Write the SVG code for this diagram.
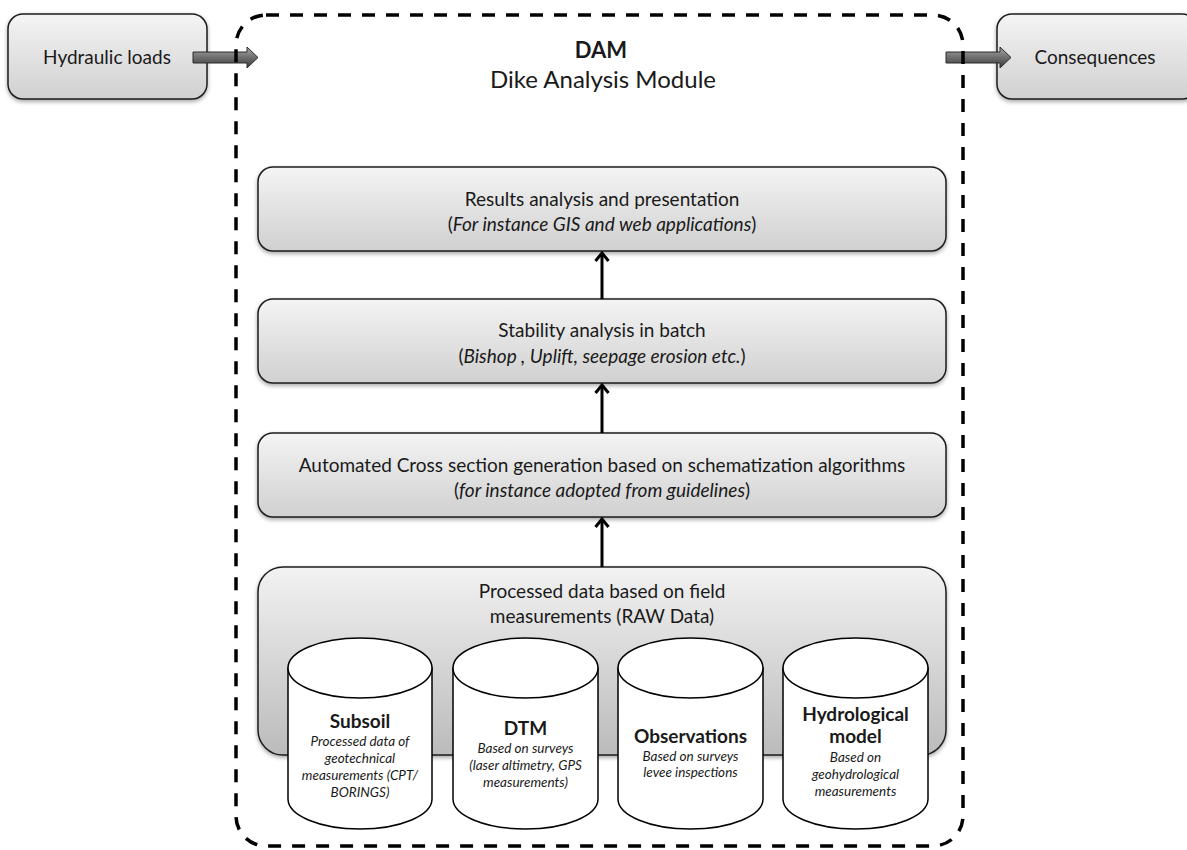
<svg xmlns="http://www.w3.org/2000/svg" width="1187" height="850" viewBox="0 0 1187 850">
  <defs>
    <linearGradient id="boxGrad" x1="0" y1="0" x2="0" y2="1">
      <stop offset="0" stop-color="#f4f4f4"/>
      <stop offset="1" stop-color="#d0d0d0"/>
    </linearGradient>
    <linearGradient id="bigGrad" x1="0" y1="0" x2="0" y2="1">
      <stop offset="0" stop-color="#f2f2f2"/>
      <stop offset="1" stop-color="#bbbbbb"/>
    </linearGradient>
    <linearGradient id="arrowGrad" x1="0" y1="0" x2="0" y2="1">
      <stop offset="0" stop-color="#a8a8a8"/>
      <stop offset="0.5" stop-color="#6e6e6e"/>
      <stop offset="1" stop-color="#3c3c3c"/>
    </linearGradient>
    <filter id="shadow" x="-5%" y="-10%" width="110%" height="130%">
      <feDropShadow dx="0" dy="2" stdDeviation="2" flood-color="#000" flood-opacity="0.35"/>
    </filter>
    <marker id="chev" viewBox="0 0 12 16" refX="10" refY="8" markerWidth="12" markerHeight="16" markerUnits="userSpaceOnUse" orient="auto">
      <path d="M2,1.5 L10,8 L2,14.5" fill="none" stroke="#000" stroke-width="3"/>
    </marker>
  </defs>
  <style>
    .box { fill: url(#boxGrad); stroke: #1e1e1e; stroke-width: 1.5; filter: url(#shadow); }
    .big { fill: url(#bigGrad); stroke: #1e1e1e; stroke-width: 1.5; filter: url(#shadow); }
    .cyl { fill: #ffffff; stroke: #000; stroke-width: 1.5; }
    .t { font-family: Lato, "Liberation Sans", sans-serif; fill: #1a1a1a; text-anchor: middle; }
    .m { font-size: 19px; }
    .i { font-style: italic; }
    .ttl { font-size: 19px; font-weight: bold; }
    .sm { font-size: 13.5px; font-style: italic; }
    .blk { fill: url(#arrowGrad); stroke: #2a2a2a; stroke-width: 1; }
    .conn { stroke: #000; stroke-width: 3; fill: none; }
    .border { fill: none; stroke: #000; stroke-width: 3.5; stroke-dasharray: 13 11; }
  </style>

  <!-- side nodes -->
  <g id="hydraulic-loads">
    <rect class="box" x="8" y="14" width="199" height="85" rx="15"/>
    <text class="t m" x="107" y="64">Hydraulic loads</text>
  </g>
  <g id="consequences">
    <rect class="box" x="997" y="14" width="200" height="85" rx="15"/>
    <text class="t m" x="1095" y="64">Consequences</text>
  </g>

  <!-- DAM title -->
  <g id="dam-title">
    <text class="t" x="601" y="58" font-size="22" font-weight="bold">DAM</text>
    <text class="t" x="603" y="88" font-size="24">Dike Analysis Module</text>
  </g>

  <g id="results">
    <rect class="box" x="258" y="167" width="688" height="84" rx="15"/>
    <text class="t m" x="602" y="206">Results analysis and presentation</text>
    <text class="t m" x="602" y="231">(<tspan class="i">For instance GIS and web applications</tspan>)</text>
  </g>

  <g id="stability">
    <rect class="box" x="258" y="299" width="688" height="84" rx="15"/>
    <text class="t m" x="602" y="337">Stability analysis in batch</text>
    <text class="t m" x="602" y="363">(<tspan class="i">Bishop , Uplift, seepage erosion etc.</tspan>)</text>
  </g>

  <g id="cross-section">
    <rect class="box" x="258" y="433" width="688" height="84" rx="15"/>
    <text class="t m" x="602" y="472">Automated Cross section generation based on schematization algorithms</text>
    <text class="t m" x="602" y="497">(<tspan class="i">for instance adopted from guidelines</tspan>)</text>
  </g>

  <g id="processed-data">
    <rect class="big" x="258" y="567" width="688" height="188" rx="25"/>
    <text class="t m" x="602" y="598">Processed data based on field</text>
    <text class="t m" x="602" y="623">measurements (RAW Data)</text>
  </g>

  <g id="subsoil">
    <path class="cyl" d="M288,668 V799 A72 30 0 0 0 432,799 V668 Z"/>
    <ellipse class="cyl" cx="360" cy="668" rx="72" ry="30"/>
    <text class="t ttl" x="360" y="728">Subsoil</text>
    <text class="t sm" x="360" y="746">Processed data  of</text>
    <text class="t sm" x="360" y="763">geotechnical</text>
    <text class="t sm" x="360" y="780">measurements (CPT/</text>
    <text class="t sm" x="360" y="797">BORINGS)</text>
  </g>

  <g id="dtm">
    <path class="cyl" d="M453,668 V799 A72.5 30 0 0 0 598,799 V668 Z"/>
    <ellipse class="cyl" cx="525.5" cy="668" rx="72.5" ry="30"/>
    <text class="t ttl" x="525.5" y="735">DTM</text>
    <text class="t sm" x="525.5" y="753">Based on surveys</text>
    <text class="t sm" x="525.5" y="770">(laser altimetry, GPS</text>
    <text class="t sm" x="525.5" y="787">measurements)</text>
  </g>

  <g id="observations">
    <path class="cyl" d="M618,668 V799 A72.5 30 0 0 0 763,799 V668 Z"/>
    <ellipse class="cyl" cx="690.5" cy="668" rx="72.5" ry="30"/>
    <text class="t ttl" x="690.5" y="743">Observations</text>
    <text class="t sm" x="690.5" y="761">Based on surveys</text>
    <text class="t sm" x="690.5" y="777">levee inspections</text>
  </g>

  <g id="hydrological-model">
    <path class="cyl" d="M783,668 V799 A72.5 30 0 0 0 928,799 V668 Z"/>
    <ellipse class="cyl" cx="855.5" cy="668" rx="72.5" ry="30"/>
    <text class="t ttl" x="855.5" y="721">Hydrological</text>
    <text class="t ttl" x="855.5" y="743">model</text>
    <text class="t sm" x="855.5" y="762">Based on</text>
    <text class="t sm" x="855.5" y="779">geohydrological</text>
    <text class="t sm" x="855.5" y="796">measurements</text>
  </g>

  <g id="connectors">
    <line class="conn" x1="602" y1="299" x2="602" y2="253" marker-end="url(#chev)"/>
    <line class="conn" x1="602" y1="433" x2="602" y2="385" marker-end="url(#chev)"/>
    <line class="conn" x1="602" y1="567" x2="602" y2="519" marker-end="url(#chev)"/>
    <path class="blk" d="M193,52 H247 V47 L258,57.5 L247,68 V63 H193 Z"/>
    <path class="blk" d="M946,52 H1000 V47 L1011,57.5 L1000,68 V63 H946 Z"/>
  </g>

  <g id="dam-boundary">
    <rect class="border" x="236" y="15" width="727" height="831" rx="30"/>
  </g>
</svg>
